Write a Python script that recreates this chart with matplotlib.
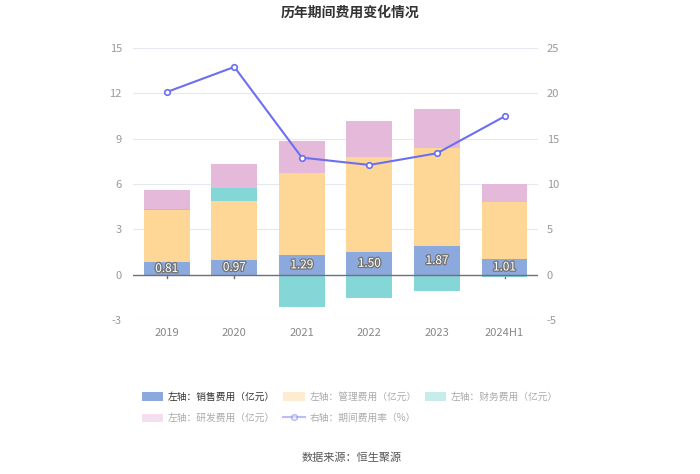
import matplotlib
matplotlib.use('Agg')
import matplotlib.pyplot as plt
import matplotlib.patheffects as pe
import numpy as np

plt.rcParams['font.family'] = ['Noto Sans CJK SC', 'DejaVu Sans']
plt.rcParams['axes.unicode_minus'] = False

# 数据
years = ['2019', '2020', '2021', '2022', '2023', '2024H1']
sales = [0.81, 0.97, 1.29, 1.50, 1.87, 1.01]
admin = [3.48, 3.90, 5.46, 6.29, 6.49, 3.77]
finance = [0.07, 0.86, -2.15, -1.57, -1.08, -0.18]
rnd = [1.26, 1.57, 2.10, 2.34, 2.61, 1.24]
rate = [20.13, 22.9, 12.9, 12.09, 13.38, 17.44]

c_sales = '#8ba9dc'
c_admin = '#fed797'
c_fin = '#84d6d7'
c_rnd = '#e5b9da'
c_line = '#6b6ff0'

fig = plt.figure(figsize=(7, 4.74), dpi=100)
ax = fig.add_axes([0.19, 0.325, 0.579, 0.574])
ax2 = ax.twinx()

x = np.arange(len(years))
w = 0.68
sales = np.array(sales)
admin = np.array(admin)
finance = np.array(finance)
rnd = np.array(rnd)

# 正值堆叠, 负值向下
fin_pos = np.where(finance > 0, finance, 0)
fin_neg = np.where(finance < 0, finance, 0)

b1 = ax.bar(x, sales, w, color=c_sales, zorder=3)
b2 = ax.bar(x, admin, w, bottom=sales, color=c_admin, zorder=3)
b3 = ax.bar(x, fin_pos, w, bottom=sales + admin, color=c_fin, zorder=3)
ax.bar(x, fin_neg, w, color=c_fin, zorder=3)
b4 = ax.bar(x, rnd, w, bottom=sales + admin + fin_pos, color=c_rnd, zorder=3)

for xi, v in zip(x, sales):
    ax.text(xi, v / 2, f'{v:.2f}', ha='center', va='center', fontsize=8.5,
            color='white', zorder=5,
            path_effects=[pe.withStroke(linewidth=2, foreground='#777777')])

ax.set_ylim(-3, 15)
ax.set_yticks([-3, 0, 3, 6, 9, 12, 15])
ax.set_xlim(-0.5, len(years) - 0.5)
ax.set_xticks(x)
ax.set_xticklabels(years)
ax.grid(axis='y', color='#e6e8f0', linewidth=0.8, zorder=0)
ax.axhline(0, color='#6e7079', linewidth=1, zorder=4)
for s in ax.spines.values():
    s.set_visible(False)
for s in ax2.spines.values():
    s.set_visible(False)
ax.tick_params(axis='y', length=0, labelsize=8, labelcolor='#999999', pad=8)
ax.tick_params(axis='x', length=0, labelsize=8, labelcolor='#888888', pad=6)
for xi in x:
    ax.plot([xi, xi], [0, -0.25], color='#6e7079', linewidth=1, zorder=2)

l1, = ax2.plot(x, rate, color=c_line, linewidth=1.5, marker='o', markersize=4,
               markerfacecolor='white', markeredgecolor=c_line, markeredgewidth=1.2, zorder=6)
ax2.set_ylim(-5, 25)
ax2.set_yticks([-5, 0, 5, 10, 15, 20, 25])
ax2.tick_params(axis='y', length=0, labelsize=8, labelcolor='#999999', pad=6)

fig.text(0.5, 0.974, '历年期间费用变化情况', ha='center', va='center',
         fontsize=10, fontweight='bold', color='#333333')

handles = [b1, b4, b2, l1, b3]
labels = ['左轴：销售费用（亿元）', '左轴：研发费用（亿元）', '左轴：管理费用（亿元）',
          '右轴：期间费用率（%）', '左轴：财务费用（亿元）']
leg = fig.legend(handles, labels, ncol=3, loc='upper left', bbox_to_anchor=(142 / 700, 1 - 392 / 474),
                 frameon=False, fontsize=7, handlelength=2.2, handleheight=1.0,
                 columnspacing=0.8, handletextpad=0.5, labelspacing=1.15,
                 borderpad=0, borderaxespad=0)
for t, h in zip(leg.get_texts(), leg.legend_handles):
    if t.get_text().startswith('左轴：销售'):
        t.set_color('#333333')
    else:
        t.set_color('#aaaaaa')
        h.set_alpha(0.45)

fig.text(0.503, 0.034, '数据来源：恒生聚源', ha='center', va='center',
         fontsize=8, color='#555555')

fig.savefig('out.png', dpi=100)
